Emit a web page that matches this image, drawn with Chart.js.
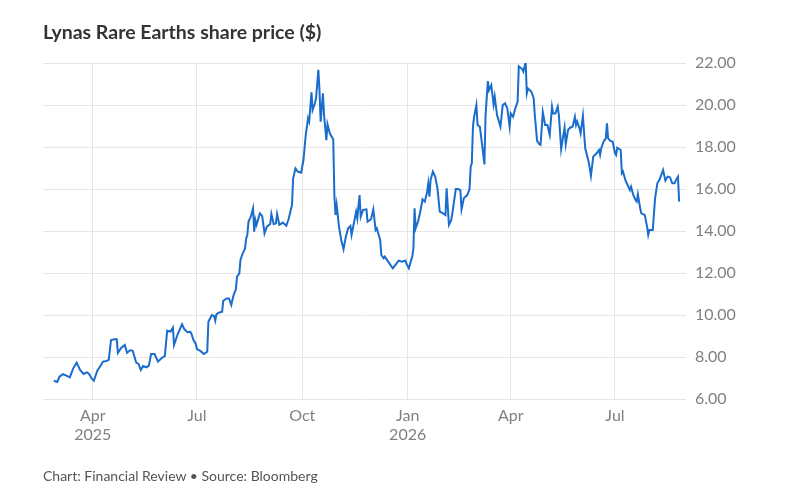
<!DOCTYPE html>
<html>
<head>
<meta charset="utf-8">
<script src="https://cdn.jsdelivr.net/npm/chart.js@4.4.1/dist/chart.umd.min.js"></script>
<style>
  html, body { margin: 0; padding: 0; background: #fff; }
  #wrap { position: relative; width: 787px; height: 497px; overflow: hidden; }
  #c { position: absolute; left: 0; top: 0; }
  .title { position: absolute; left: 43px; top: 21.7px; font: bold 19.5px Lato, sans-serif; line-height: 1; color: #333; white-space: nowrap; }
  .foot { position: absolute; left: 43px; top: 469px; font: 14px Lato, sans-serif; line-height: 1; color: #555; white-space: nowrap; }
</style>
</head>
<body>
<div id="wrap">
  <canvas id="c" width="787" height="497"></canvas>
  <div class="title">Lynas Rare Earths share price ($)</div>
  <div class="foot">Chart: Financial Review • Source: Bloomberg</div>
</div>
<script>
// Day offsets counted from 2025-04-01
const days = [
  -34,-31,-29,-26,-23,-20,-17,-14,-11,-8,-5,-3,-1,1,4,6,9,12,14,16,19,21,22,25,28,30,33,35,38,40,42,44,47,49,51,54,57,60,63,65,68,70,71,74,78,80,83,
  85,86,88,90,91,94,97,100,101,104,106,107,108,110,113,114,117,119,121,123,125,126,128,129,131,133,134,135,136,138,140,141,142,143,146,148,150,152,155,156,158,160,161,163,166,169,171,174,175,177,179,182,184,186,188,189,191,192,194,195,197,198,199,201,202,204,205,207,210,
  211,212,213,215,217,219,221,223,225,226,228,230,231,233,234,236,239,240,243,245,247,248,251,252,254,255,258,261,262,265,267,270,273,274,276,279,280,281,282,284,286,288,290,292,293,294,295,297,299,301,303,306,308,309,311,313,314,317,319,321,322,324,327,329,
  330,331,332,333,335,336,338,340,342,343,345,346,348,350,351,353,356,358,360,362,364,365,367,369,371,372,375,376,378,379,380,383,385,386,388,390,391,393,395,397,399,401,402,404,406,407,409,410,412,413,415,417,419,421,422,423,425,426,428,430,433,435,437,440,442,443,444,446,448,449,450,452,454,456,457,458,461,462,463,465,467,469,470,472,474,475,476,478,479,481,482,484,485,486,488,489,491,493,495,498,500,502,504,506,508,509,511,512
];
const prices = [
  6.87,6.81,7.06,7.18,7.11,7.03,7.46,7.73,7.38,7.19,7.27,7.18,6.98,6.87,7.35,7.51,7.78,7.81,7.86,8.81,8.84,8.84,8.20,8.44,8.57,8.20,8.33,8.29,7.73,7.67,7.38,7.57,7.51,7.59,8.14,8.14,7.78,7.94,8.05,9.25,9.21,9.40,8.57,9.05,9.56,9.32,9.17,
  9.21,9.13,8.81,8.62,8.38,8.29,8.14,8.25,9.68,10.00,9.95,9.73,10.03,10.11,10.16,10.68,10.79,10.79,10.48,10.95,11.22,11.83,11.98,12.62,12.94,13.17,13.65,13.81,14.44,14.68,15.08,13.97,14.52,14.29,14.84,14.71,13.89,14.21,14.33,14.81,14.33,14.37,14.81,14.29,14.40,14.25,14.56,15.24,16.51,16.98,16.83,16.78,17.38,18.57,19.37,19.21,20.60,19.76,20.08,20.32,21.67,20.71,19.21,20.56,19.52,18.33,19.08,18.65,18.37,
  15.70,14.76,15.24,14.21,13.57,13.13,13.73,14.13,14.24,13.81,14.37,14.92,14.60,15.71,14.68,15.00,15.03,14.44,14.56,15.03,14.05,14.13,13.57,12.86,12.70,12.78,12.54,12.30,12.22,12.43,12.59,12.54,12.59,12.43,12.22,12.78,13.17,15.08,14.13,14.44,14.92,15.51,15.40,15.87,16.27,15.63,16.43,16.83,16.59,16.03,14.92,14.84,14.76,16.03,14.29,14.52,14.84,16.00,16.00,15.95,15.03,15.56,15.71,16.00,
  17.06,17.22,18.97,19.44,20.00,19.05,18.97,18.10,17.17,19.52,21.14,20.71,20.95,20.03,20.40,19.52,18.97,20.00,20.08,19.84,18.97,19.60,19.44,19.84,20.16,21.84,21.71,21.59,22.06,20.56,20.79,20.63,20.32,19.52,18.29,18.13,18.10,19.65,19.05,19.05,18.57,19.92,19.60,19.60,19.92,19.52,17.90,18.25,18.92,18.13,18.81,18.93,18.97,19.44,19.05,19.21,18.89,18.65,19.48,17.94,17.30,16.63,17.54,17.70,17.86,17.62,17.94,18.25,18.41,19.13,18.41,18.29,18.25,17.70,17.62,17.97,17.86,16.75,16.83,16.43,16.19,15.95,16.11,15.71,15.48,15.40,15.75,15.08,14.84,14.79,14.76,14.21,13.81,14.05,14.05,14.05,15.56,16.27,16.46,16.90,16.40,16.59,16.56,16.27,16.27,16.40,16.59,15.40
];
// x-axis ticks: quarter starts (day offsets) and labels
const xTickDays = [0, 91, 183, 275, 365, 456];
const xTickLabels = [["Apr","2025"], "Jul", "Oct", ["Jan","2026"], "Apr", "Jul"];
const yTicks = [6, 8, 10, 12, 14, 16, 18, 20, 22];

const points = days.map((d, i) => ({ x: d, y: prices[i] }));

new Chart(document.getElementById('c'), {
  type: 'line',
  data: {
    datasets: [{
      data: points,
      borderColor: '#1a6dcc',
      borderWidth: 2,
      pointRadius: 0,
      tension: 0,
      fill: false
    }]
  },
  options: {
    responsive: false,
    animation: false,
    events: [],
    layout: { padding: { left: 43, top: 63, right: 0, bottom: 0 } },
    plugins: { legend: { display: false }, tooltip: { enabled: false }, title: { display: false } },
    scales: {
      x: {
        type: 'linear',
        min: -43.4,
        max: 518,
        afterBuildTicks: (s) => { s.ticks = xTickDays.map(v => ({ value: v })); },
        afterFit: (s) => { s.height = 98; },
        ticks: {
          autoSkip: false,
          maxRotation: 0,
          padding: 7,
          color: '#808080',
          font: { family: 'Lato', size: 16, lineHeight: 1.2 },
          callback: (v) => { const i = xTickDays.indexOf(v); return i >= 0 ? xTickLabels[i] : ''; }
        },
        grid: { color: '#e6e6e6', lineWidth: 1, drawTicks: false },
        border: { display: false }
      },
      y: {
        position: 'right',
        min: 6,
        max: 22,
        afterBuildTicks: (s) => { s.ticks = yTicks.map(v => ({ value: v })); },
        afterFit: (s) => { s.width = 101; },
        ticks: {
          padding: 9,
          color: '#808080',
          font: { family: 'Lato', size: 16 },
          callback: (v) => Number(v).toFixed(2)
        },
        grid: { color: '#e6e6e6', lineWidth: 1, drawTicks: false },
        border: { display: false }
      }
    }
  }
});
</script>
</body>
</html>
